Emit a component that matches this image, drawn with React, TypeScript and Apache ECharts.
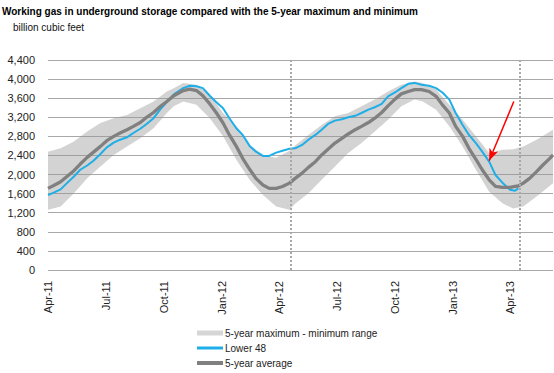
import React, { useEffect, useRef } from 'react';
import * as echarts from 'echarts';

const chartTitle = 'Working gas in underground storage compared with the 5-year maximum and minimum';
const unitLabel = 'billion cubic feet';

const xTickDates = ['2011-04-01', '2011-07-01', '2011-10-01', '2012-01-01', '2012-04-01', '2012-07-01', '2012-10-01', '2013-01-01', '2013-04-01'];
const monthNames = ['Jan', 'Feb', 'Mar', 'Apr', 'May', 'Jun', 'Jul', 'Aug', 'Sep', 'Oct', 'Nov', 'Dec'];

const lineDates = [
  '2011-04-01', '2011-04-10', '2011-04-21', '2011-05-01', '2011-05-12', '2011-05-22', '2011-06-02', '2011-06-12',
  '2011-06-23', '2011-07-03', '2011-07-14', '2011-07-24', '2011-08-04', '2011-08-14', '2011-08-25', '2011-09-04',
  '2011-09-15', '2011-09-26', '2011-10-06', '2011-10-17', '2011-11-01', '2011-11-11', '2011-11-22', '2011-12-02',
  '2011-12-13', '2011-12-23', '2012-01-03', '2012-01-13', '2012-01-24', '2012-02-03', '2012-02-14', '2012-02-24',
  '2012-03-06', '2012-03-16', '2012-03-27', '2012-04-06', '2012-04-17', '2012-04-26', '2012-05-07', '2012-05-17',
  '2012-05-28', '2012-06-07', '2012-06-17', '2012-06-28', '2012-07-09', '2012-07-19', '2012-07-30', '2012-08-09',
  '2012-08-20', '2012-08-30', '2012-09-10', '2012-09-20', '2012-10-01', '2012-10-11', '2012-10-22', '2012-11-01',
  '2012-11-12', '2012-11-24', '2012-12-05', '2012-12-15', '2012-12-26', '2013-01-05', '2013-01-16', '2013-01-26',
  '2013-02-06', '2013-02-16', '2013-02-27', '2013-03-09', '2013-03-20', '2013-04-01', '2013-04-09', '2013-04-14',
  '2013-04-22', '2013-05-02', '2013-05-13', '2013-05-23', '2013-06-03', '2013-06-08',
];

const lower48 = [
  1570, 1620, 1690, 1820, 1960, 2100, 2190, 2290,
  2430, 2570, 2670, 2730, 2780, 2870, 2960, 3060,
  3180, 3370, 3520, 3680, 3810, 3860, 3850, 3810,
  3650, 3520, 3390, 3180, 2970, 2830, 2600, 2480,
  2390, 2390, 2460, 2500, 2540, 2550, 2620, 2730,
  2830, 2940, 3060, 3130, 3160, 3200, 3230, 3290,
  3360, 3410, 3480, 3640, 3720, 3810, 3900, 3920,
  3880, 3860, 3810, 3720, 3570, 3290, 3040, 2830,
  2660, 2480, 2270, 1990, 1830, 1680, 1660, 1710,
  null, null, null, null, null, null,
];

const avg5yr = [
  1710, 1770, 1850, 1960, 2080, 2220, 2360, 2470,
  2590, 2710, 2800, 2870, 2940, 3010, 3090, 3200,
  3300, 3430, 3530, 3650, 3760, 3790, 3760, 3650,
  3480, 3300, 3080, 2830, 2590, 2340, 2110, 1920,
  1780, 1710, 1710, 1750, 1820, 1920, 2030, 2150,
  2270, 2410, 2530, 2660, 2760, 2850, 2940, 3010,
  3090, 3180, 3300, 3440, 3580, 3690, 3740, 3780,
  3780, 3740, 3640, 3460, 3290, 3010, 2800, 2550,
  2320, 2100, 1890, 1750, 1730, 1730, 1750, 1760,
  1820, 1920, 2060, 2200, 2340, 2410,
];

const bandDates = [
  '2011-04-01', '2011-04-21', '2011-05-12', '2011-06-02', '2011-06-23', '2011-07-14', '2011-08-04', '2011-08-25',
  '2011-09-15', '2011-10-06', '2011-10-17', '2011-11-01', '2011-11-22', '2011-12-13', '2012-01-03', '2012-01-24',
  '2012-02-14', '2012-03-06', '2012-03-27', '2012-04-17', '2012-04-26', '2012-05-17', '2012-06-07', '2012-06-28',
  '2012-07-19', '2012-08-09', '2012-08-30', '2012-09-20', '2012-10-11', '2012-11-01', '2012-11-14', '2012-12-05',
  '2012-12-26', '2013-01-16', '2013-02-06', '2013-02-27', '2013-03-20', '2013-04-06', '2013-04-22', '2013-05-13',
  '2013-06-08',
];
const bandMax = [
  2480, 2550, 2690, 2900, 3080, 3180, 3250, 3390,
  3530, 3740, 3810, 3920, 3880, 3670, 3290, 3010,
  2620, 2410, 2350, 2500, 2610, 2830, 3040, 3220,
  3290, 3430, 3570, 3740, 3880, 3950, 3920, 3780,
  3460, 3150, 2800, 2450, 2520, 2530, 2590, 2730,
  2940,
];
const bandMin = [
  1260, 1330, 1610, 1920, 2170, 2410, 2590, 2760,
  2970, 3290, 3430, 3530, 3460, 3180, 2800, 2310,
  1890, 1570, 1330, 1260, 1390, 1610, 1890, 2170,
  2450, 2660, 2900, 3150, 3430, 3570, 3530, 3360,
  3010, 2590, 2100, 1640, 1400, 1290, 1330, 1540,
  1820,
];

const reportDates = ['2012-04-19', '2013-04-17'];
const arrowStart: [string, number] = ['2013-04-07', 3530];
const arrowEnd: [string, number] = ['2013-02-27', 2290];

const FONT = '"Liberation Sans", Arial, Helvetica, sans-serif';

export default function App() {
  const ref = useRef<HTMLDivElement>(null);
  useEffect(() => {
    if (!ref.current) return;
    const chart = echarts.init(ref.current, null, { renderer: 'svg' });
    const ts = (d: string) => Date.UTC(+d.slice(0, 4), +d.slice(5, 7) - 1, +d.slice(8, 10));
    const fmtDate = (v: number) => {
      const d = new Date(v);
      return monthNames[d.getUTCMonth()] + '-' + String(d.getUTCFullYear() % 100).padStart(2, '0');
    };
    const legendCommon = {
      left: 197,
      orient: 'vertical',
      itemWidth: 26,
      padding: 0,
      textStyle: { fontSize: 10, color: '#222', fontFamily: FONT, padding: [0, 0, 0, -3] },
      selectedMode: false,
    };
    const tickVals = xTickDates.map(ts);
    const bandData = bandDates.map((d, i) => [ts(d), bandMin[i], bandMax[i]]);
    chart.setOption({
      animation: false,
      backgroundColor: '#fff',
      title: [
        { text: chartTitle, left: 2, top: 6, padding: 0, textStyle: { fontSize: 10, fontWeight: 'bold', color: '#000', fontFamily: FONT } },
        { text: unitLabel, left: 13, top: 22, padding: 0, textStyle: { fontSize: 10, fontWeight: 'normal', color: '#111', fontFamily: FONT } },
      ],
      legend: [
        { ...legendCommon, top: 328, itemHeight: 5, data: [{ name: '5-year maximum - minimum range', icon: 'rect', itemStyle: { color: '#d6d6d6', borderWidth: 0 } }] },
        { ...legendCommon, top: 343, itemHeight: 3, data: [{ name: 'Lower 48', icon: 'rect', itemStyle: { color: '#1eaee8', borderWidth: 0 } }] },
        { ...legendCommon, top: 358, itemHeight: 4, data: [{ name: '5-year average', icon: 'rect', itemStyle: { color: '#808080', borderWidth: 0 } }] },
      ],
      grid: { left: 48, right: 1, top: 60, bottom: 103, containLabel: false },
      xAxis: {
        type: 'value',
        min: ts('2011-04-01'),
        max: ts('2013-06-08'),
        axisLine: { show: false },
        axisTick: { show: false, customValues: tickVals },
        splitLine: { show: false },
        axisLabel: {
          customValues: tickVals,
          rotate: 90,
          margin: 11,
          fontSize: 11,
          color: '#222',
          fontFamily: FONT,
          showMinLabel: true,
          showMaxLabel: true,
          formatter: (v: number) => fmtDate(v),
        },
      },
      yAxis: {
        type: 'value',
        min: 0,
        max: 4400,
        interval: 400,
        axisLine: { show: false },
        axisTick: { show: false },
        splitLine: { show: true, lineStyle: { color: '#a8a8a8', width: 1 } },
        axisLabel: {
          fontSize: 11,
          color: '#222',
          fontFamily: FONT,
          margin: 13,
          formatter: (v: number) => v.toLocaleString('en-US'),
        },
      },
      series: [
        {
          name: '5-year maximum - minimum range',
          type: 'custom',
          silent: true,
          clip: true,
          itemStyle: { color: '#d6d6d6' },
          encode: { x: 0, y: [1, 2] },
          data: bandData,
          renderItem: (params: any, api: any) => {
            if (params.dataIndex !== 0) return null;
            const upper = bandData.map((p) => api.coord([p[0], p[2]]));
            const lower = bandData.map((p) => api.coord([p[0], p[1]])).reverse();
            return {
              type: 'polygon',
              shape: { points: upper.concat(lower) },
              style: { fill: 'rgba(150,150,150,0.42)', stroke: 'none' },
            };
          },
        },
        {
          name: 'Lower 48',
          type: 'line',
          symbol: 'none',
          silent: true,
          itemStyle: { color: '#1eaee8' },
          lineStyle: { color: '#1eaee8', width: 2 },
          data: lineDates.map((d, i) => [ts(d), lower48[i]]),
          markLine: {
            silent: true,
            symbol: ['none', 'arrow'],
            symbolSize: [7, 12],
            label: { show: false },
            lineStyle: { color: '#ff0000', width: 1.5, type: 'solid' },
            data: [[{ coord: [ts(arrowStart[0]), arrowStart[1]] }, { coord: [ts(arrowEnd[0]), arrowEnd[1]] }]],
          },
        },
        {
          name: '5-year average',
          type: 'line',
          symbol: 'none',
          silent: true,
          itemStyle: { color: '#808080' },
          lineStyle: { color: '#808080', width: 3.3 },
          data: lineDates.map((d, i) => [ts(d), avg5yr[i]]),
          markLine: {
            silent: true,
            symbol: ['none', 'none'],
            label: { show: false },
            lineStyle: { color: '#a8a8a8', width: 2, type: [2, 2] },
            data: reportDates.map((d) => ({ xAxis: ts(d) })),
          },
        },
      ],
    });
    return () => chart.dispose();
  }, []);
  return <div ref={ref} style={{ position: 'fixed', left: 0, top: 0, width: 554, height: 373 }} />;
}
